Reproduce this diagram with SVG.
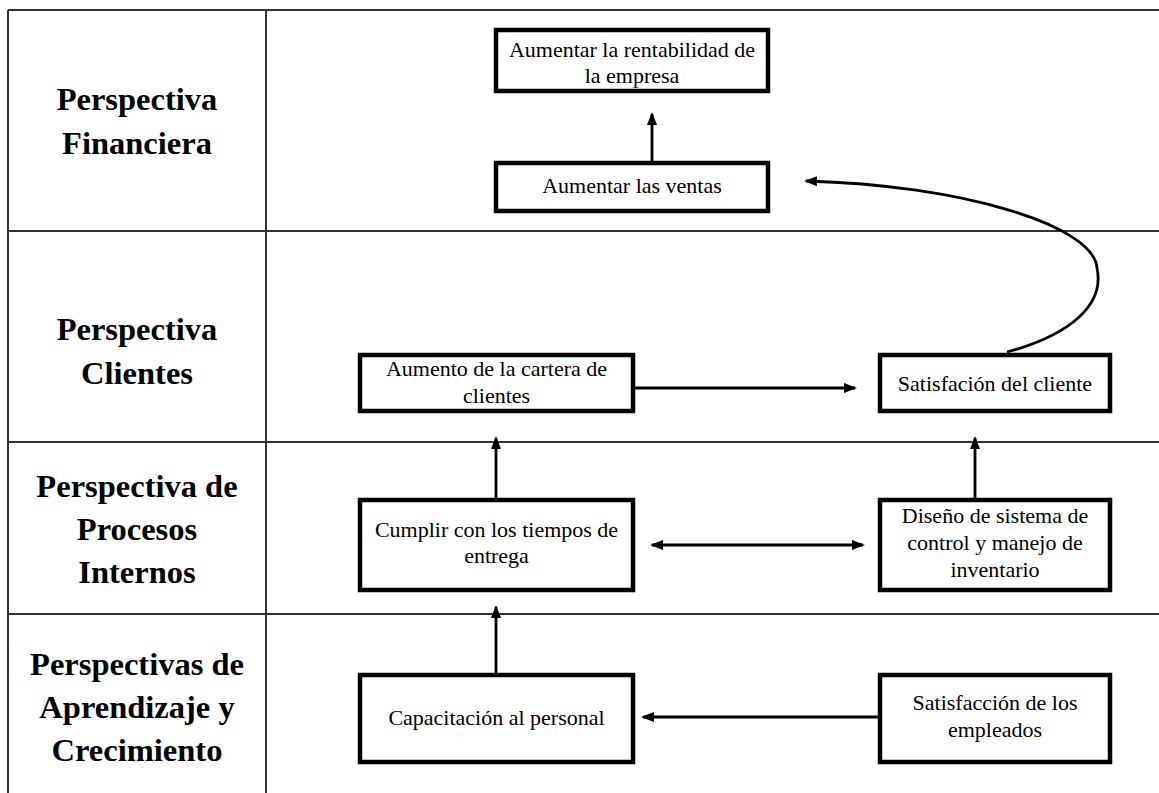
<svg xmlns="http://www.w3.org/2000/svg" width="1159" height="793" viewBox="0 0 1159 793">
<style>
.grid{stroke:#333;stroke-width:2;fill:none}
.box{fill:#fff;stroke:#000;stroke-width:4.5}
.hdr{font-weight:bold;font-size:32.5px;fill:#000;text-anchor:middle}
.lbl{font-size:22px;fill:#000;text-anchor:middle}
.arr{stroke:#000;stroke-width:2.8;fill:none}
</style>
<defs>
<marker id="ah" markerUnits="userSpaceOnUse" markerWidth="14" markerHeight="12" refX="11" refY="5" orient="auto-start-reverse">
<path d="M0,0 L13,5 L0,10 z" fill="#000"/>
</marker>
</defs>
<rect width="1159" height="793" fill="#fff"/>
<g id="table">
<line class="grid" x1="8" y1="10" x2="1159" y2="10"/>
<line class="grid" x1="8" y1="10" x2="8" y2="793"/>
<line class="grid" x1="266" y1="10" x2="266" y2="793"/>
<line class="grid" x1="8" y1="231" x2="1159" y2="231"/>
<line class="grid" x1="8" y1="442" x2="1159" y2="442"/>
<line class="grid" x1="8" y1="614" x2="1159" y2="614"/>
</g>
<g id="headers" font-family="Liberation Serif, DejaVu Serif, serif">
<text class="hdr" x="137" y="110">Perspectiva</text>
<text class="hdr" x="137" y="154">Financiera</text>
<text class="hdr" x="137" y="340">Perspectiva</text>
<text class="hdr" x="137" y="384">Clientes</text>
<text class="hdr" x="137" y="497">Perspectiva de</text>
<text class="hdr" x="137" y="540">Procesos</text>
<text class="hdr" x="137" y="583">Internos</text>
<text class="hdr" x="137" y="675">Perspectivas de</text>
<text class="hdr" x="137" y="718">Aprendizaje y</text>
<text class="hdr" x="137" y="761">Crecimiento</text>
</g>
<g id="connectors">
<line class="arr" x1="652" y1="161" x2="652" y2="114" marker-end="url(#ah)"/>
<path class="arr" d="M1007,352 C1070,335 1105,305 1097,268 C1094,225 960,185 806,181" marker-end="url(#ah)"/>
<line class="arr" x1="635" y1="388" x2="855" y2="388" marker-end="url(#ah)"/>
<line class="arr" x1="496" y1="498" x2="496" y2="438" marker-end="url(#ah)"/>
<line class="arr" x1="975" y1="498" x2="975" y2="438" marker-end="url(#ah)"/>
<line class="arr" x1="652" y1="545" x2="863" y2="545" marker-start="url(#ah)" marker-end="url(#ah)"/>
<line class="arr" x1="496" y1="673" x2="496" y2="607" marker-end="url(#ah)"/>
<line class="arr" x1="878" y1="717" x2="643" y2="717" marker-end="url(#ah)"/>
</g>
<g id="nodes" font-family="Liberation Serif, DejaVu Serif, serif">
<g id="n-rentabilidad">
<rect class="box" x="496" y="30" width="272" height="61"/>
<text class="lbl" x="632" y="57">Aumentar la rentabilidad de</text>
<text class="lbl" x="632" y="83">la empresa</text>
</g>
<g id="n-ventas">
<rect class="box" x="496" y="163" width="272" height="48"/>
<text class="lbl" x="632" y="193">Aumentar las ventas</text>
</g>
<g id="n-cartera">
<rect class="box" x="360" y="355" width="273" height="56"/>
<text class="lbl" x="496.5" y="376">Aumento de la cartera de</text>
<text class="lbl" x="496.5" y="403">clientes</text>
</g>
<g id="n-satisfacion">
<rect class="box" x="880" y="355" width="230" height="56"/>
<text class="lbl" x="995" y="391">Satisfación del cliente</text>
</g>
<g id="n-cumplir">
<rect class="box" x="360" y="500" width="273" height="90"/>
<text class="lbl" x="496.5" y="537">Cumplir con los tiempos de</text>
<text class="lbl" x="496.5" y="563">entrega</text>
</g>
<g id="n-diseno">
<rect class="box" x="880" y="500" width="230" height="90"/>
<text class="lbl" x="995" y="523">Diseño de sistema de</text>
<text class="lbl" x="995" y="550">control y manejo de</text>
<text class="lbl" x="995" y="577">inventario</text>
</g>
<g id="n-capacitacion">
<rect class="box" x="360" y="675" width="273" height="87"/>
<text class="lbl" x="496.5" y="725">Capacitación al personal</text>
</g>
<g id="n-empleados">
<rect class="box" x="880" y="675" width="230" height="87"/>
<text class="lbl" x="995" y="710">Satisfacción de los</text>
<text class="lbl" x="995" y="737">empleados</text>
</g>
</g>
</svg>
